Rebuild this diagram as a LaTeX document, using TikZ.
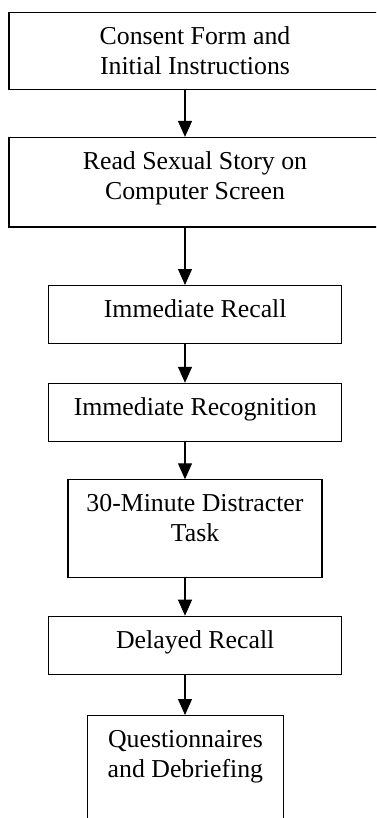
\documentclass[tikz,border=0pt]{standalone}
\usepackage{fontspec}
\setmainfont{Liberation Serif}
\usetikzlibrary{arrows.meta}

% box of fixed size with its text hung from the top edge
\newcommand\stagetext[3]{\parbox[c][#2][t]{#1}{\centering\rule{0pt}{32pt}#3}}

\begin{document}
\begin{tikzpicture}[x=1pt,y=-1pt,
  stage/.style={draw, line width=1.1pt, inner sep=0pt, anchor=north,
                font=\fontsize{25.8}{30}\selectfont},
  flow/.style={-{Triangle[width=14pt,length=16pt]}, line width=1.1pt}]
\useasboundingbox (0,0) rectangle (376,818);
\clip (0,0) rectangle (376,818);

\coordinate (spine) at (185,0);

\node[stage] (b1) at (195,11.7)
  {\stagetext{372pt}{77.6pt}{Consent Form and\\Initial Instructions}};
\node[stage] (b2) at (195,136.9)
  {\stagetext{372pt}{89.6pt}{Read Sexual Story on\\Computer Screen}};
\node[stage] (b3) at (195.2,285)
  {\stagetext{293pt}{58.3pt}{Immediate Recall}};
\node[stage] (b4) at (195.2,382.8)
  {\stagetext{293pt}{58.5pt}{Immediate Recognition}};
\node[stage] (b5) at (195,479.3)
  {\stagetext{254pt}{98pt}{30-Minute Distracter\\Task}};
\node[stage] (b6) at (195.2,615.7)
  {\stagetext{293pt}{58.6pt}{Delayed Recall}};
\node[stage] (b7) at (185.4,715)
  {\stagetext{195.3pt}{130pt}{Questionnaires\\and Debriefing}};

\draw[flow] (b1.south -| spine) -- (b2.north -| spine);
\draw[flow] (b2.south -| spine) -- (b3.north -| spine);
\draw[flow] (b3.south -| spine) -- (b4.north -| spine);
\draw[flow] (b4.south -| spine) -- (b5.north -| spine);
\draw[flow] (b5.south -| spine) -- (b6.north -| spine);
\draw[flow] (b6.south -| spine) -- (b7.north -| spine);
\end{tikzpicture}
\end{document}
